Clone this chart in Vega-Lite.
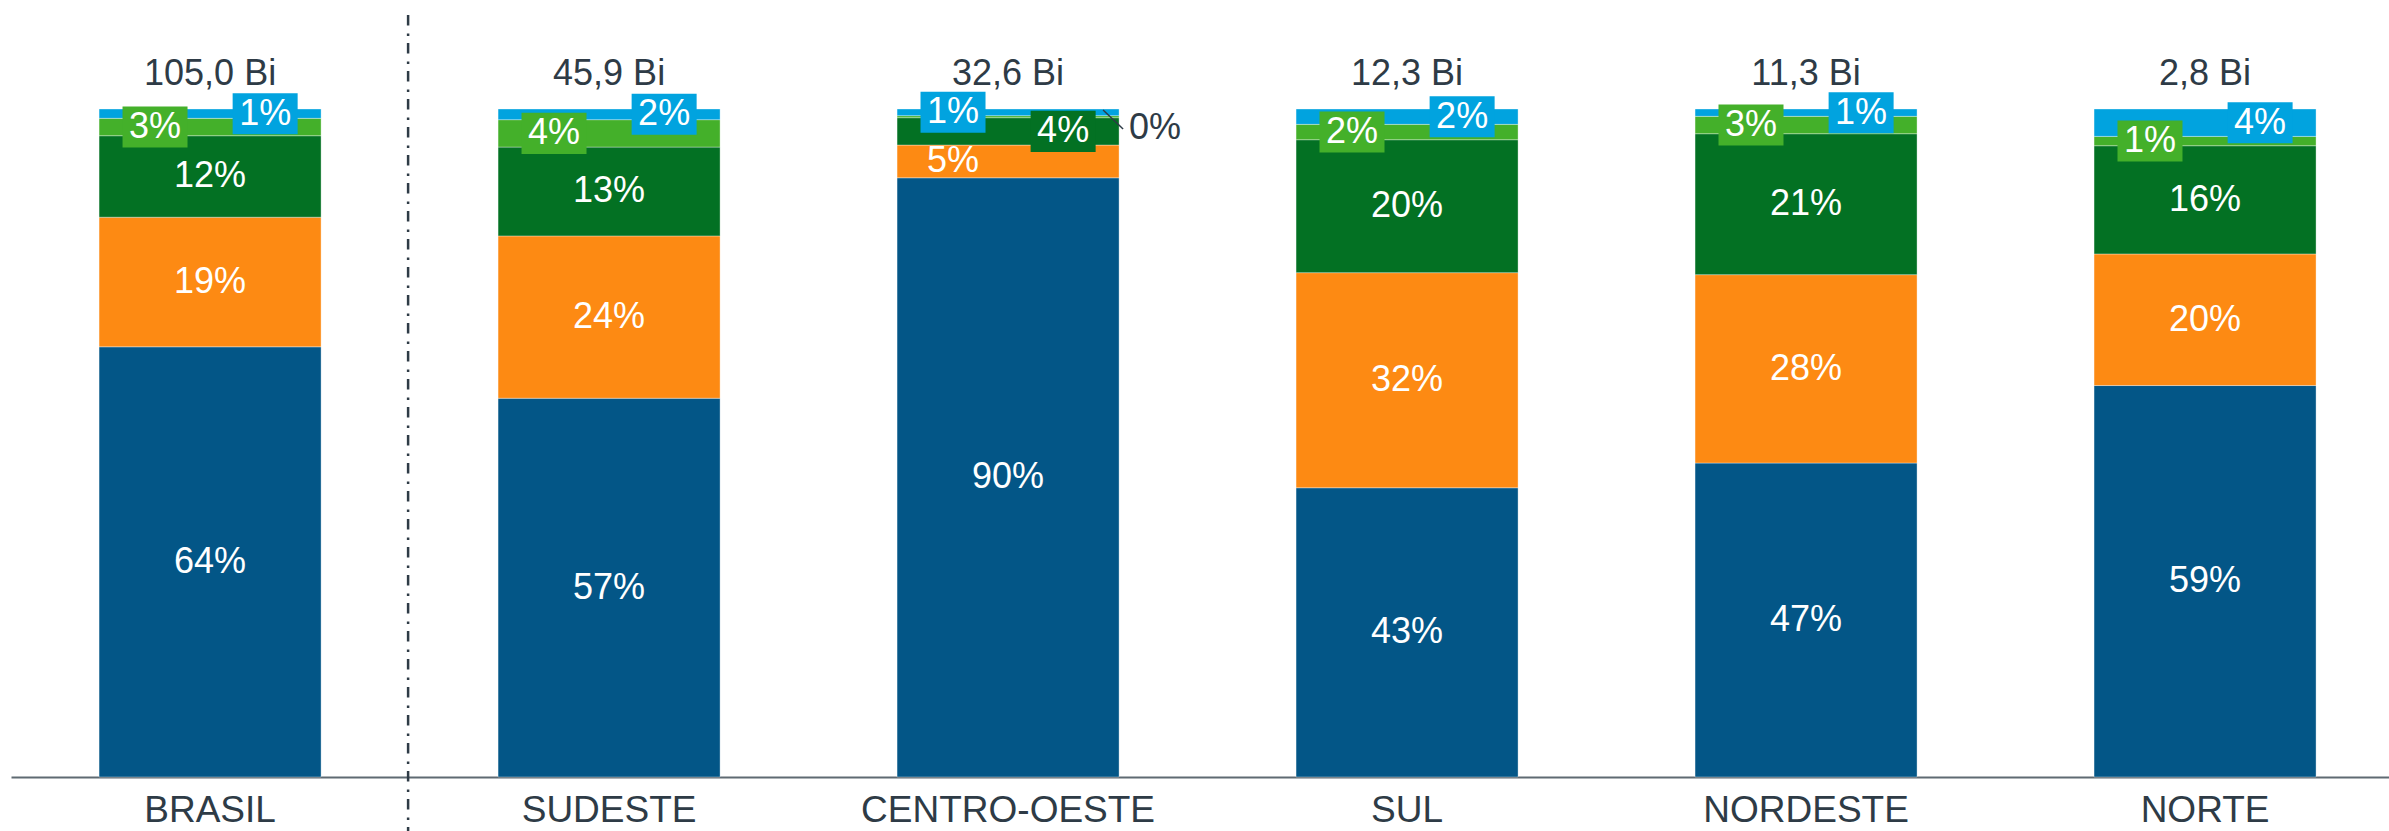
{
  "$schema": "https://vega.github.io/schema/vega-lite/v6.json",
  "width": 2378,
  "height": 762,
  "autosize": {"type": "none"},
  "padding": {"left": 11, "top": 15, "right": 0, "bottom": 54},
  "background": "white",
  "config": {
    "view": {"stroke": null},
    "font": "Liberation Sans",
    "locale": {"number": {"decimal": ",", "thousands": ".", "grouping": [3], "currency": ["", " Bi"]}}
  },
  "datasets": {
    "seg": [
      {"region": "BRASIL", "serie": "s1", "value": 0.644},
      {"region": "BRASIL", "serie": "s2", "value": 0.194},
      {"region": "BRASIL", "serie": "s3", "value": 0.122},
      {"region": "BRASIL", "serie": "s4", "value": 0.026},
      {"region": "BRASIL", "serie": "s5", "value": 0.014},
      {"region": "SUDESTE", "serie": "s1", "value": 0.567},
      {"region": "SUDESTE", "serie": "s2", "value": 0.243},
      {"region": "SUDESTE", "serie": "s3", "value": 0.133},
      {"region": "SUDESTE", "serie": "s4", "value": 0.041},
      {"region": "SUDESTE", "serie": "s5", "value": 0.016},
      {"region": "CENTRO-OESTE", "serie": "s1", "value": 0.897},
      {"region": "CENTRO-OESTE", "serie": "s2", "value": 0.049},
      {"region": "CENTRO-OESTE", "serie": "s3", "value": 0.041},
      {"region": "CENTRO-OESTE", "serie": "s4", "value": 0.003},
      {"region": "CENTRO-OESTE", "serie": "s5", "value": 0.010},
      {"region": "SUL", "serie": "s1", "value": 0.433},
      {"region": "SUL", "serie": "s2", "value": 0.322},
      {"region": "SUL", "serie": "s3", "value": 0.199},
      {"region": "SUL", "serie": "s4", "value": 0.023},
      {"region": "SUL", "serie": "s5", "value": 0.023},
      {"region": "NORDESTE", "serie": "s1", "value": 0.470},
      {"region": "NORDESTE", "serie": "s2", "value": 0.282},
      {"region": "NORDESTE", "serie": "s3", "value": 0.211},
      {"region": "NORDESTE", "serie": "s4", "value": 0.026},
      {"region": "NORDESTE", "serie": "s5", "value": 0.011},
      {"region": "NORTE", "serie": "s1", "value": 0.586},
      {"region": "NORTE", "serie": "s2", "value": 0.197},
      {"region": "NORTE", "serie": "s3", "value": 0.162},
      {"region": "NORTE", "serie": "s4", "value": 0.014},
      {"region": "NORTE", "serie": "s5", "value": 0.041}
    ],
    "tot": [
      {"region": "BRASIL", "total": 105.0},
      {"region": "SUDESTE", "total": 45.9},
      {"region": "CENTRO-OESTE", "total": 32.6},
      {"region": "SUL", "total": 12.3},
      {"region": "NORDESTE", "total": 11.3},
      {"region": "NORTE", "total": 2.8}
    ]
  },
  "layer": [
    {
      "data": {"name": "seg"},
      "transform": [
        {"stack": "value", "groupby": ["region"], "sort": [{"field": "serie", "order": "ascending"}], "as": ["y0", "y1"]}
      ],
      "layer": [
        {
          "mark": {"type": "bar", "stroke": "white", "strokeWidth": 1, "strokeOpacity": 0.35},
          "encoding": {
            "x": {
              "field": "region", "type": "nominal",
              "sort": ["BRASIL", "SUDESTE", "CENTRO-OESTE", "SUL", "NORDESTE", "NORTE"],
              "scale": {"paddingInner": 0.4436, "paddingOuter": 0.2018, "align": 0.547},
              "axis": {"title": null, "ticks": false, "labelFontSize": 37, "labelColor": "#2E3B46", "labelPadding": 15, "labelLimit": 0, "domainColor": "#5F6A72", "domainWidth": 2, "labelFont": "Liberation Sans", "labelAngle": 0}
            },
            "y": {"field": "y0", "type": "quantitative", "scale": {"domain": [0, 1.1407], "nice": false, "zero": true}, "axis": null},
            "y2": {"field": "y1"},
            "color": {"field": "serie", "type": "nominal", "legend": null,
              "scale": {"domain": ["s1", "s2", "s3", "s4", "s5"], "range": ["#035687", "#FD8A13", "#037123", "#44B02A", "#01A3DF"]}}
          }
        },
        {
          "transform": [
            {"calculate": "(datum.y0 + datum.y1) / 2", "as": "mid"},
            {"filter": "datum.serie == 's1' || (datum.region != 'CENTRO-OESTE' && (datum.serie == 's2' || datum.serie == 's3'))"}
          ],
          "mark": {"type": "text", "color": "white", "fontSize": 36, "baseline": "middle", "align": "center"},
          "encoding": {
            "x": {"field": "region", "type": "nominal", "sort": ["BRASIL", "SUDESTE", "CENTRO-OESTE", "SUL", "NORDESTE", "NORTE"], "bandPosition": 0.5},
            "y": {"field": "mid", "type": "quantitative"},
            "text": {"field": "value", "type": "quantitative", "format": ".0%"}
          }
        },
        {
          "transform": [
            {"calculate": "(datum.y0 + datum.y1) / 2", "as": "mid"},
            {"filter": "(datum.serie == 's4' && datum.region != 'CENTRO-OESTE') || (datum.serie == 's5' && datum.region == 'CENTRO-OESTE')"}
          ],
          "mark": {"type": "point", "shape": "M-1,-0.631L1,-0.631L1,0.631L-1,0.631Z", "filled": true, "opacity": 1, "size": 4225, "strokeWidth": 0},
          "encoding": {
            "x": {"field": "region", "type": "nominal", "sort": ["BRASIL", "SUDESTE", "CENTRO-OESTE", "SUL", "NORDESTE", "NORTE"], "bandPosition": 0.252},
            "y": {"field": "mid", "type": "quantitative"},
            "color": {"field": "serie", "type": "nominal"}
          }
        },
        {
          "transform": [
            {"calculate": "(datum.y0 + datum.y1) / 2", "as": "mid"},
            {"filter": "(datum.serie == 's5' && datum.region != 'CENTRO-OESTE') || (datum.serie == 's3' && datum.region == 'CENTRO-OESTE')"}
          ],
          "mark": {"type": "point", "shape": "M-1,-0.631L1,-0.631L1,0.631L-1,0.631Z", "filled": true, "opacity": 1, "size": 4225, "strokeWidth": 0},
          "encoding": {
            "x": {"field": "region", "type": "nominal", "sort": ["BRASIL", "SUDESTE", "CENTRO-OESTE", "SUL", "NORDESTE", "NORTE"], "bandPosition": 0.748},
            "y": {"field": "mid", "type": "quantitative"},
            "color": {"field": "serie", "type": "nominal"}
          }
        },
        {
          "transform": [
            {"calculate": "(datum.y0 + datum.y1) / 2", "as": "mid"},
            {"filter": "(datum.serie == 's4' && datum.region != 'CENTRO-OESTE') || (datum.region == 'CENTRO-OESTE' && (datum.serie == 's5' || datum.serie == 's2'))"}
          ],
          "mark": {"type": "text", "color": "white", "fontSize": 36, "baseline": "middle", "align": "center"},
          "encoding": {
            "x": {"field": "region", "type": "nominal", "sort": ["BRASIL", "SUDESTE", "CENTRO-OESTE", "SUL", "NORDESTE", "NORTE"], "bandPosition": 0.252},
            "y": {"field": "mid", "type": "quantitative"},
            "text": {"field": "value", "type": "quantitative", "format": ".0%"}
          }
        },
        {
          "transform": [
            {"calculate": "(datum.y0 + datum.y1) / 2", "as": "mid"},
            {"filter": "(datum.serie == 's5' && datum.region != 'CENTRO-OESTE') || (datum.serie == 's3' && datum.region == 'CENTRO-OESTE')"}
          ],
          "mark": {"type": "text", "color": "white", "fontSize": 36, "baseline": "middle", "align": "center"},
          "encoding": {
            "x": {"field": "region", "type": "nominal", "sort": ["BRASIL", "SUDESTE", "CENTRO-OESTE", "SUL", "NORDESTE", "NORTE"], "bandPosition": 0.748},
            "y": {"field": "mid", "type": "quantitative"},
            "text": {"field": "value", "type": "quantitative", "format": ".0%"}
          }
        },
        {
          "transform": [
            {"calculate": "(datum.y0 + datum.y1) / 2", "as": "mid"},
            {"filter": "datum.serie == 's4' && datum.region == 'CENTRO-OESTE'"}
          ],
          "mark": {"type": "text", "color": "#2E3B46", "fontSize": 36, "baseline": "middle", "align": "left", "dy": 11},
          "encoding": {
            "x": {"field": "region", "type": "nominal", "sort": ["BRASIL", "SUDESTE", "CENTRO-OESTE", "SUL", "NORDESTE", "NORTE"], "bandPosition": 1.045},
            "y": {"field": "mid", "type": "quantitative"},
            "text": {"field": "value", "type": "quantitative", "format": ".0%"}
          }
        },
        {
          "transform": [
            {"calculate": "(datum.y0 + datum.y1) / 2", "as": "mid"},
            {"filter": "datum.serie == 's4' && datum.region == 'CENTRO-OESTE'"}
          ],
          "mark": {"type": "point", "shape": "M0,-0.335L1,0.615", "filled": false, "opacity": 1, "size": 1600, "stroke": "#2E3B46", "strokeWidth": 1.5},
          "encoding": {
            "x": {"field": "region", "type": "nominal", "sort": ["BRASIL", "SUDESTE", "CENTRO-OESTE", "SUL", "NORDESTE", "NORTE"], "bandPosition": 0.928},
            "y": {"field": "mid", "type": "quantitative"}
          }
        }
      ]
    },
    {
      "data": {"name": "tot"},
      "mark": {"type": "text", "color": "#2E3B46", "fontSize": 36, "baseline": "alphabetic", "align": "center", "dy": -24},
      "encoding": {
        "x": {"field": "region", "type": "nominal", "sort": ["BRASIL", "SUDESTE", "CENTRO-OESTE", "SUL", "NORDESTE", "NORTE"], "bandPosition": 0.5},
        "y": {"datum": 1, "type": "quantitative"},
        "text": {"field": "total", "type": "quantitative", "format": "$.1f"}
      }
    },
    {
      "data": {"name": "tot"},
      "transform": [{"filter": "datum.region == 'BRASIL'"}],
      "mark": {"type": "rule", "color": "#2E3B46", "strokeWidth": 2.5, "strokeDash": [10.5, 8, 2.5, 7], "clip": false},
      "encoding": {
        "x": {"field": "region", "type": "nominal", "sort": ["BRASIL", "SUDESTE", "CENTRO-OESTE", "SUL", "NORDESTE", "NORTE"], "bandPosition": 1.392},
        "y": {"datum": 1.1407, "type": "quantitative"},
        "y2": {"datum": -0.0808}
      }
    }
  ]
}
